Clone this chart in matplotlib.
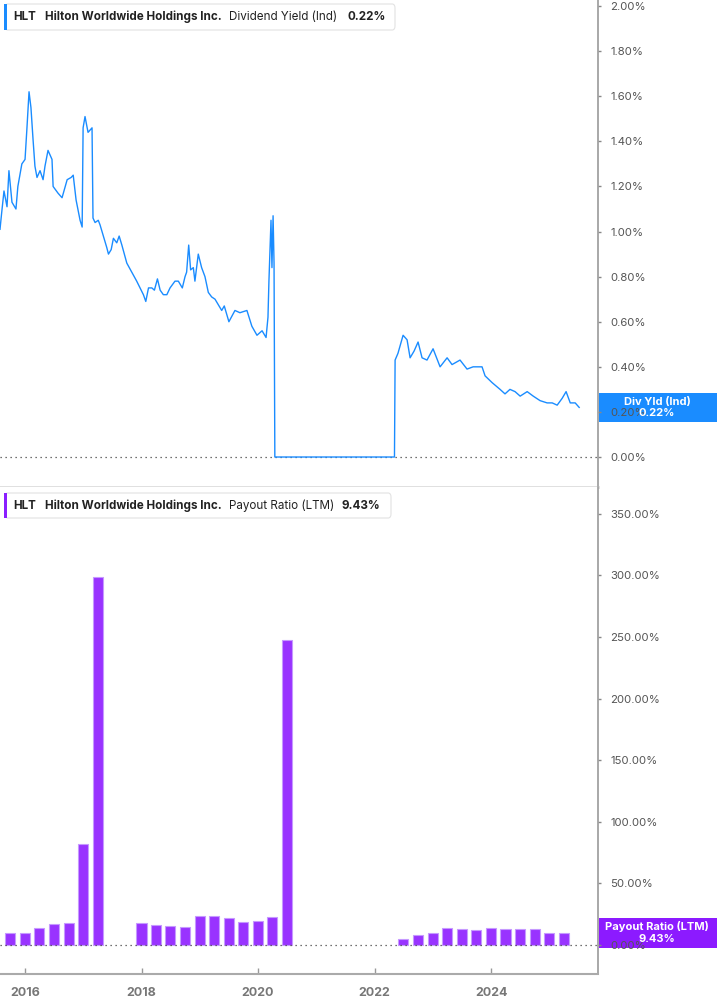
import matplotlib
matplotlib.use('Agg')
import matplotlib.pyplot as plt
import matplotlib.dates as mdates
import pandas as pd
from matplotlib.patches import FancyBboxPatch, Rectangle

plt.rcParams['font.family'] = ['Inter', 'DejaVu Sans']

# dividend yield (Ind), %
yield_dates = [
    '2015-07-28', '2015-08-07', '2015-08-22', '2015-09-10', '2015-09-22', '2015-10-11',
    '2015-11-05', '2015-11-17', '2015-12-12', '2016-01-01', '2016-01-13', '2016-01-26',
    '2016-02-07', '2016-02-20', '2016-03-03', '2016-03-16', '2016-04-04', '2016-04-23',
    '2016-05-05', '2016-05-24', '2016-06-18', '2016-06-25', '2016-07-26', '2016-08-20',
    '2016-09-21', '2016-10-16', '2016-10-29', '2016-11-16', '2016-12-11', '2016-12-24',
    '2016-12-30', '2017-01-11', '2017-01-30', '2017-02-24', '2017-03-02', '2017-03-15',
    '2017-04-04', '2017-04-15', '2017-05-06', '2017-05-27', '2017-06-07', '2017-06-24',
    '2017-07-08', '2017-07-29', '2017-08-13', '2017-08-30', '2017-09-30', '2017-10-31',
    '2017-12-01', '2017-12-22', '2018-01-12', '2018-01-27', '2018-02-13', '2018-03-06',
    '2018-03-22', '2018-04-10', '2018-04-27', '2018-05-17', '2018-06-08', '2018-06-28',
    '2018-07-29', '2018-08-19', '2018-09-13', '2018-09-30', '2018-10-10', '2018-10-23',
    '2018-11-04', '2018-11-21', '2018-12-01', '2018-12-22', '2019-01-12', '2019-02-02',
    '2019-02-23', '2019-03-16', '2019-04-06', '2019-05-01', '2019-05-18', '2019-06-03',
    '2019-07-02', '2019-08-09', '2019-09-09', '2019-10-23', '2019-11-23', '2019-12-25',
    '2020-01-26', '2020-02-20', '2020-03-03', '2020-03-09', '2020-03-22', '2020-03-28',
    '2020-04-04', '2020-04-10', '2020-04-15', '2022-05-05', '2022-05-09', '2022-05-27',
    '2022-06-28', '2022-07-23', '2022-08-11', '2022-09-05', '2022-09-30', '2022-10-25',
    '2022-11-25', '2023-01-02', '2023-02-15', '2023-03-31', '2023-05-01', '2023-06-20',
    '2023-08-03', '2023-09-10', '2023-11-05', '2023-11-24', '2024-01-07', '2024-02-26',
    '2024-03-28', '2024-04-28', '2024-05-30', '2024-07-01', '2024-08-14', '2024-09-21',
    '2024-11-03', '2024-12-17', '2025-01-18', '2025-02-18', '2025-03-21', '2025-04-15',
    '2025-05-11', '2025-06-11', '2025-07-06',
]
yield_values = [
    1.01, 1.08, 1.18, 1.11, 1.27, 1.13,
    1.10, 1.20, 1.30, 1.32, 1.46, 1.62,
    1.55, 1.41, 1.29, 1.24, 1.27, 1.23,
    1.29, 1.36, 1.32, 1.20, 1.17, 1.15,
    1.23, 1.24, 1.25, 1.14, 1.05, 1.02,
    1.46, 1.51, 1.44, 1.46, 1.06, 1.04,
    1.05, 1.03, 0.98, 0.93, 0.90, 0.92,
    0.97, 0.95, 0.98, 0.94, 0.86, 0.82,
    0.78, 0.75, 0.72, 0.69, 0.75, 0.75,
    0.74, 0.79, 0.74, 0.72, 0.72, 0.75,
    0.78, 0.78, 0.75, 0.80, 0.82, 0.94,
    0.83, 0.84, 0.78, 0.90, 0.84, 0.80,
    0.73, 0.71, 0.70, 0.67, 0.65, 0.67,
    0.60, 0.65, 0.64, 0.65, 0.58, 0.54,
    0.56, 0.53, 0.62, 0.78, 1.05, 0.84,
    1.07, 0.86, 0.00, 0.00, 0.43, 0.46,
    0.54, 0.52, 0.44, 0.47, 0.51, 0.44,
    0.43, 0.48, 0.40, 0.44, 0.41, 0.43,
    0.39, 0.40, 0.40, 0.36, 0.33, 0.30,
    0.28, 0.30, 0.29, 0.27, 0.29, 0.27,
    0.25, 0.24, 0.24, 0.23, 0.26, 0.29,
    0.24, 0.24, 0.22,
]

# payout ratio (LTM), %, quarterly
payout_dates = [
    '2015-09-30', '2015-12-31', '2016-03-31', '2016-06-30', '2016-09-30', '2016-12-31',
    '2017-03-31', '2017-12-31', '2018-03-31', '2018-06-30', '2018-09-30', '2018-12-31',
    '2019-03-31', '2019-06-30', '2019-09-30', '2019-12-31', '2020-03-31', '2020-06-30',
    '2022-06-30', '2022-09-30', '2022-12-31', '2023-03-31', '2023-06-30', '2023-09-30',
    '2023-12-31', '2024-03-31', '2024-06-30', '2024-09-30', '2024-12-31', '2025-03-31',
]
payout_values = [
    9.5, 10.0, 13.5, 17.0, 17.9, 81.7,
    298.6, 18.1, 16.2, 15.2, 14.6, 23.8,
    23.3, 21.9, 18.7, 19.5, 23.0, 248.0,
    4.6, 7.8, 10.0, 13.5, 13.0, 12.4,
    13.8, 13.2, 13.0, 13.0, 9.7, 9.43,
]

yield_ticks = [0, 0.2, 0.4, 0.6, 0.8, 1.0, 1.2, 1.4, 1.6, 1.8, 2.0]
payout_ticks = [0, 50, 100, 150, 200, 250, 300, 350]
year_ticks = [2016, 2018, 2020, 2022, 2024]

W, H = 717, 1005
blue = '#1a8cff'
purple = '#9933ff'


def fx(px):
    return px / W


def fy(py):
    return 1 - py / H


fig = plt.figure(figsize=(W / 100, H / 100), dpi=100)
ax1 = fig.add_axes([0, fy(487), fx(598), 487 / H])
ax2 = fig.add_axes([0, fy(974), fx(598), 487 / H])

yd = pd.to_datetime(yield_dates)
pdt = pd.to_datetime(payout_dates)

ax1.plot(yd, yield_values, color=blue, lw=1.0)
ax2.bar(pdt, payout_values, width=63, color=purple, edgecolor='#c699ff', linewidth=0.8)

x0 = mdates.date2num(pd.Timestamp('2015-07-28'))
x1 = mdates.date2num(pd.Timestamp('2025-11-01'))
for ax in (ax1, ax2):
    ax.set_xlim(x0, x1)
    ax.axhline(0, color='#444444', lw=0.9, ls=(0, (1, 3)), zorder=1)
    ax.yaxis.tick_right()
    ax.tick_params(axis='y', direction='out', length=2, width=1, color='#888888',
                   labelsize=8.2, labelcolor='#555555', pad=7)
    ax.spines['left'].set_visible(False)
    ax.spines['top'].set_visible(False)
    ax.spines['right'].set_color('#9a9a9a')
    ax.spines['right'].set_linewidth(1.2)

ax1.set_ylim(-0.133, 2.027)
ax1.set_yticks(yield_ticks)
ax1.set_yticklabels([f'{v:.2f}%' for v in yield_ticks])
ax1.set_xticks([])
ax1.spines['bottom'].set_color('#dddddd')
ax1.spines['bottom'].set_linewidth(2)

ax2.set_ylim(-23.5, 371.8)
ax2.set_yticks(payout_ticks)
ax2.set_yticklabels([f'{v:.2f}%' for v in payout_ticks])
ax2.set_xticks([mdates.date2num(pd.Timestamp(f'{y}-01-01')) for y in year_ticks])
ax2.set_xticklabels([str(y) for y in year_ticks])
ax2.tick_params(axis='x', direction='in', length=4, width=1, color='#999999',
                labelsize=9, labelcolor='#777777', pad=9)
for lab in ax2.get_xticklabels():
    lab.set_fontweight('bold')
ax2.spines['bottom'].set_color('#aaaaaa')
ax2.spines['bottom'].set_linewidth(1.5)


# legend boxes at top left of each panel
def legend_box(top, bottom, right, color, parts):
    box = FancyBboxPatch((fx(5), fy(bottom)), fx(right) - fx(5), fy(top) - fy(bottom),
                         boxstyle='round,pad=0,rounding_size=0.004', transform=fig.transFigure,
                         facecolor='white', edgecolor='#e2e2e2', lw=0.8, zorder=5)
    fig.patches.append(box)
    bar = Rectangle((fx(4), fy(bottom)), fx(3), fy(top) - fy(bottom),
                    transform=fig.transFigure, facecolor=color, zorder=6)
    fig.patches.append(bar)
    ymid = fy((top + bottom) / 2)
    for px, txt, wt in parts:
        fig.text(fx(px), ymid, txt, fontsize=8.4, fontweight=wt, color='#222222',
                 va='center', ha='left', zorder=7)


legend_box(4, 30, 395, blue, [(13, 'HLT', 'bold'),
                              (45, 'Hilton Worldwide Holdings Inc.', 'bold'),
                              (229, 'Dividend Yield (Ind)', 'normal'),
                              (347, '0.22%', 'bold')])
legend_box(493, 518, 391, '#8a1fff', [(13, 'HLT', 'bold'),
                                      (45, 'Hilton Worldwide Holdings Inc.', 'bold'),
                                      (229, 'Payout Ratio (LTM)', 'normal'),
                                      (342, '9.43%', 'bold')])


# current value tags on the right axis
def value_tag(top, bottom, color, line1, line2):
    r = Rectangle((fx(599), fy(bottom)), fx(717 - 599), fy(top) - fy(bottom),
                  transform=fig.transFigure, facecolor=color, zorder=-1)
    fig.patches.append(r)
    fig.text(fx(657), fy(top + 8.5), line1, fontsize=8, fontweight='bold', color='white',
             ha='center', va='center', zorder=8)
    fig.text(fx(657), fy(bottom - 9.5), line2, fontsize=8, fontweight='bold', color='white',
             ha='center', va='center', zorder=8)


value_tag(393, 422, blue, 'Div Yld (Ind)', '0.22%')
value_tag(918, 948, '#8c1aff', 'Payout Ratio (LTM)', '9.43%')

fig.savefig('out.png', dpi=100)
